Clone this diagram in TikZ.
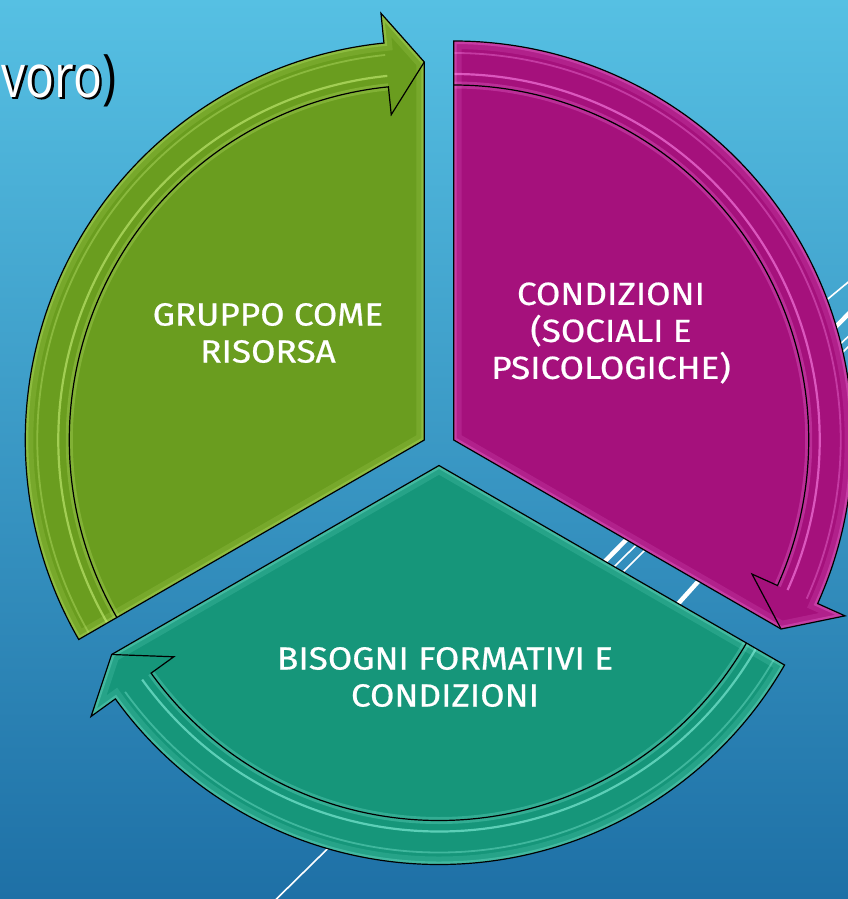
\documentclass[tikz,border=0pt]{standalone}
\usepackage{fontspec}
\setmainfont{Fira Sans}
\newfontfamily\labelfont{Fira Sans}[FakeBold=0.6]
\newfontfamily\titlefont{Open Sans}
\newfontfamily\titlerimfont{Open Sans}[FakeBold=2.5]

\definecolor{bgTop}{RGB}{86,192,227}
\definecolor{bgBot}{RGB}{30,112,166}
\definecolor{leafgreen}{RGB}{106,157,31}
\definecolor{leaflight}{RGB}{200,240,120}
\definecolor{plum}{RGB}{165,17,124}
\definecolor{plumlight}{RGB}{255,135,235}
\definecolor{seateal}{RGB}{22,150,122}
\definecolor{seatealight}{RGB}{140,245,225}

% outline of one cycle part: apex, start angle, end angle (arrow tip), angle of the arrow head base
\newcommand{\partpath}[4]{(#1) -- ([shift={(#2:399pt)}]#1)
  arc[start angle=#2, end angle=#4, radius=399pt]
  -- ([shift={(#4:429pt)}]#1) -- ([shift={(#3:378pt)}]#1) -- cycle}

% one glossy pie wedge with its curved arrow
\newcommand{\cyclepart}[6]{%
  \fill[#5] \partpath{#1}{#2}{#3}{#4};
  \begin{scope}
    \clip \partpath{#1}{#2}{#3}{#4};
    \draw[#6, opacity=.14, line width=16pt] \partpath{#1}{#2}{#3}{#4};
    \draw[#6, opacity=.28, line width=6pt] \partpath{#1}{#2}{#3}{#4};
    \draw[#6, opacity=.25, line width=7pt] ([shift={(#2:355pt)}]#1)
      arc[start angle=#2, end angle=#4, radius=355pt];
    \draw[#6, opacity=.6, line width=2.2pt] ([shift={(#2:366pt)}]#1)
      arc[start angle=#2, end angle=#4, radius=366pt];
    \draw[#6, opacity=.35, line width=1.8pt] ([shift={(#2:387pt)}]#1)
      arc[start angle=#2, end angle=#4, radius=387pt];
  \end{scope}
  \draw[edge] ([shift={(#2:355pt)}]#1)
    arc[start angle=#2, end angle=#4, radius=355pt]
    -- ([shift={(#4:327pt)}]#1) -- ([shift={(#3:378pt)}]#1);
  \draw[edge] \partpath{#1}{#2}{#3}{#4};
}

\begin{document}
\begin{tikzpicture}[x=1pt, y=1pt,
  edge/.style={draw=black, line width=1.2pt, line join=miter},
  sectortext/.style={text=white, align=center, inner sep=0pt, xscale=1.1,
    font=\labelfont\fontsize{32}{37}\selectfont},
  thinrule/.style={white, line width=1.6pt},
  thickrule/.style={white, line width=4.5pt},
  titletext/.style={anchor=base east, inner sep=0pt,
    font=\titlefont\fontsize{60}{60}\selectfont}]

\useasboundingbox (0,0) rectangle (848,-899);
\clip (0,0) rectangle (848,-899);

% slide background
\shade[top color=bgTop, bottom color=bgBot] (0,0) rectangle (848,-899);

% decorative diagonal rules of the slide theme
\draw[thinrule]  (250,-925) -- (870,-315);
\draw[thickrule] (560,-607) -- (870,-292);
\draw[thinrule]  (580,-615) -- (870,-325);
\draw[thickrule] (650,-635) -- (740,-535);
\draw[thinrule]  (700,-405) -- (870,-264);

% end of the slide title: one dark emboldened shadow under the white letters
\node[titletext, text=black, font=\titlerimfont\fontsize{60}{60}\selectfont]
  (titleshadow) at (118.2,-98.2) {\scalebox{0.8}[1]{voro\phantom{)}}};
\node[titletext] (title) at (117,-97)
  {\scalebox{0.8}[1]{\textcolor{white}{voro}\textcolor{black}{)}}};

% apexes of the three exploded wedges
\coordinate (C) at (439,-448.5);
\coordinate (G) at ([shift={(150:17pt)}]C);
\coordinate (M) at ([shift={(30:17pt)}]C);
\coordinate (T) at ([shift={(270:17pt)}]C);

\cyclepart{G}{210}{90}{95.8}{leafgreen}{leaflight}
\cyclepart{M}{90}{-30}{-24.2}{plum}{plumlight}
\cyclepart{T}{-30}{-150}{-144.2}{seateal}{seatealight}

\node[sectortext] (gruppo) at (268,-333) {GRUPPO COME\\RISORSA};
\node[sectortext] (condizioni) at (611,-333) {CONDIZIONI\\(SOCIALI E\\PSICOLOGICHE)};
\node[sectortext] (bisogni) at (445,-677) {BISOGNI FORMATIVI E\\CONDIZIONI};
\end{tikzpicture}
\end{document}
